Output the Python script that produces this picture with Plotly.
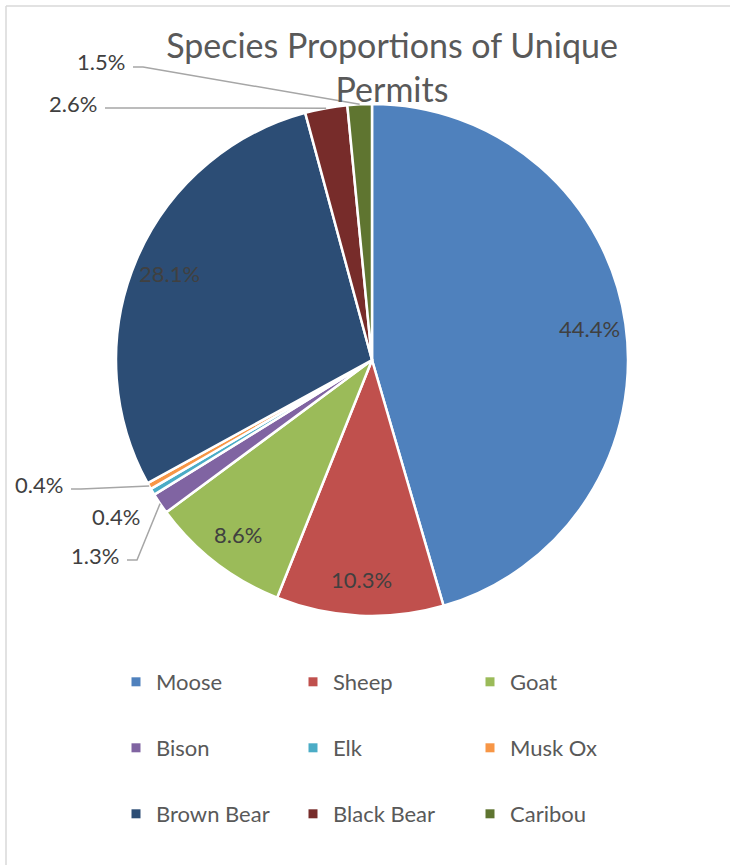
import math
import plotly.graph_objects as go

# Permit shares by species (percent of unique permits)
species = ["Moose", "Sheep", "Goat", "Bison", "Elk", "Musk Ox",
           "Brown Bear", "Black Bear", "Caribou"]
shares = [44.4, 10.3, 8.6, 1.3, 0.4, 0.4, 28.1, 2.6, 1.5]
colors = ["#4F81BD", "#C0504D", "#9BBB59", "#8064A2", "#4BACC6", "#F79646",
          "#2C4D75", "#772C2A", "#5F7530"]

W, H = 730, 865
CX, CY, R = 372, 360, 256          # pie centre and radius in pixels
FONT = "Lato"
TEXT_DARK = "#404040"
TEXT_GREY = "#595959"
LEADER = "#A6A6A6"

# Outside-label placement for the thin slices: (text right edge x, text y, leader?)
outside = {
    "Caribou":    (127, 62, True),
    "Black Bear": (99, 103, True),
    "Musk Ox":    (65, 484, True),
    "Elk":        (142, 516, False),
    "Bison":      (121, 555, True),
}


def px(x, y):
    return x / W, 1 - y / H


fig = go.Figure()
fig.add_trace(go.Pie(
    labels=species, values=shares, sort=False, direction="clockwise",
    rotation=0, marker=dict(colors=colors, line=dict(color="white", width=2.5)),
    textinfo="none", hoverinfo="label+text", text=[f"{v}%" for v in shares],
    showlegend=False,
    domain=dict(x=[(CX - R) / W, (CX + R) / W], y=[1 - (CY + R) / H, 1 - (CY - R) / H]),
))

# Slice mid-angles (clockwise from 12 o'clock) from the normalised shares
total = sum(shares)
annotations, shapes = [], []
start = 0.0
for name, v in zip(species, shares):
    span = v / total * 360
    mid = math.radians(start + span / 2)
    start += span
    label = f"{v}%"
    if name in outside:
        rx, ty, lead = outside[name]
        lx, ly = px(rx, ty)
        annotations.append(dict(x=lx, y=ly, xref="paper", yref="paper", text=label,
                                showarrow=False, xanchor="right", yanchor="middle",
                                font=dict(family=FONT, size=22, color=TEXT_DARK)))
        if lead:
            ex, ey = CX + R * math.sin(mid), CY - R * math.cos(mid)
            sx, sy = rx + 6, ty + 5
            p0, p1, p2 = px(sx, sy), px(sx + 10, sy), px(ex, ey)
            shapes.append(dict(type="path", xref="paper", yref="paper",
                               path=f"M {p0[0]} {p0[1]} L {p1[0]} {p1[1]} L {p2[0]} {p2[1]}",
                               line=dict(color=LEADER, width=1.5)))
    else:
        tx, ty = CX + 0.86 * R * math.sin(mid), CY - 0.86 * R * math.cos(mid)
        ax_, ay_ = px(tx, ty)
        annotations.append(dict(x=ax_, y=ay_, xref="paper", yref="paper", text=label,
                                showarrow=False, xanchor="center", yanchor="middle",
                                font=dict(family=FONT, size=22, color=TEXT_DARK)))

# Legend entries, three per row
legend_rows = ["legend", "legend2", "legend3"]
for i, (name, c) in enumerate(zip(species, colors)):
    fig.add_trace(go.Scatter(x=[None], y=[None], mode="markers", name=name,
                             marker=dict(symbol="square", size=9, color=c),
                             legend=legend_rows[i // 3], hoverinfo="skip"))

row_y = [682, 748, 814]
legend_common = dict(orientation="h", xanchor="left", yanchor="middle",
                     entrywidth=132, bgcolor="rgba(0,0,0,0)",
                     font=dict(family=FONT, size=22, color=TEXT_GREY))
legends = {}
for key, y in zip(legend_rows, row_y):
    legends[key] = dict(x=(136 - 20) / W, y=1 - y / H, **legend_common)

# Thin frame along the top and left edges
shapes.append(dict(type="line", xref="paper", yref="paper", x0=6 / W, x1=1, y0=1 - 6 / H, y1=1 - 6 / H,
                   line=dict(color="#D9D9D9", width=1.5)))
shapes.append(dict(type="line", xref="paper", yref="paper", x0=6 / W, x1=6 / W, y0=0, y1=1 - 6 / H,
                   line=dict(color="#D9D9D9", width=1.5)))

fig.update_layout(
    width=W, height=H, margin=dict(l=0, r=0, t=0, b=0),
    paper_bgcolor="white", plot_bgcolor="white",
    title=dict(text="Species Proportions of Unique<br>Permits", x=392 / W, xanchor="center",
               y=1 - 58 / H, yanchor="top", yref="container",
               font=dict(family=FONT, size=34, color=TEXT_GREY)),
    xaxis=dict(visible=False), yaxis=dict(visible=False),
    annotations=annotations, shapes=shapes, **legends,
)

fig.write_html("out.html")
